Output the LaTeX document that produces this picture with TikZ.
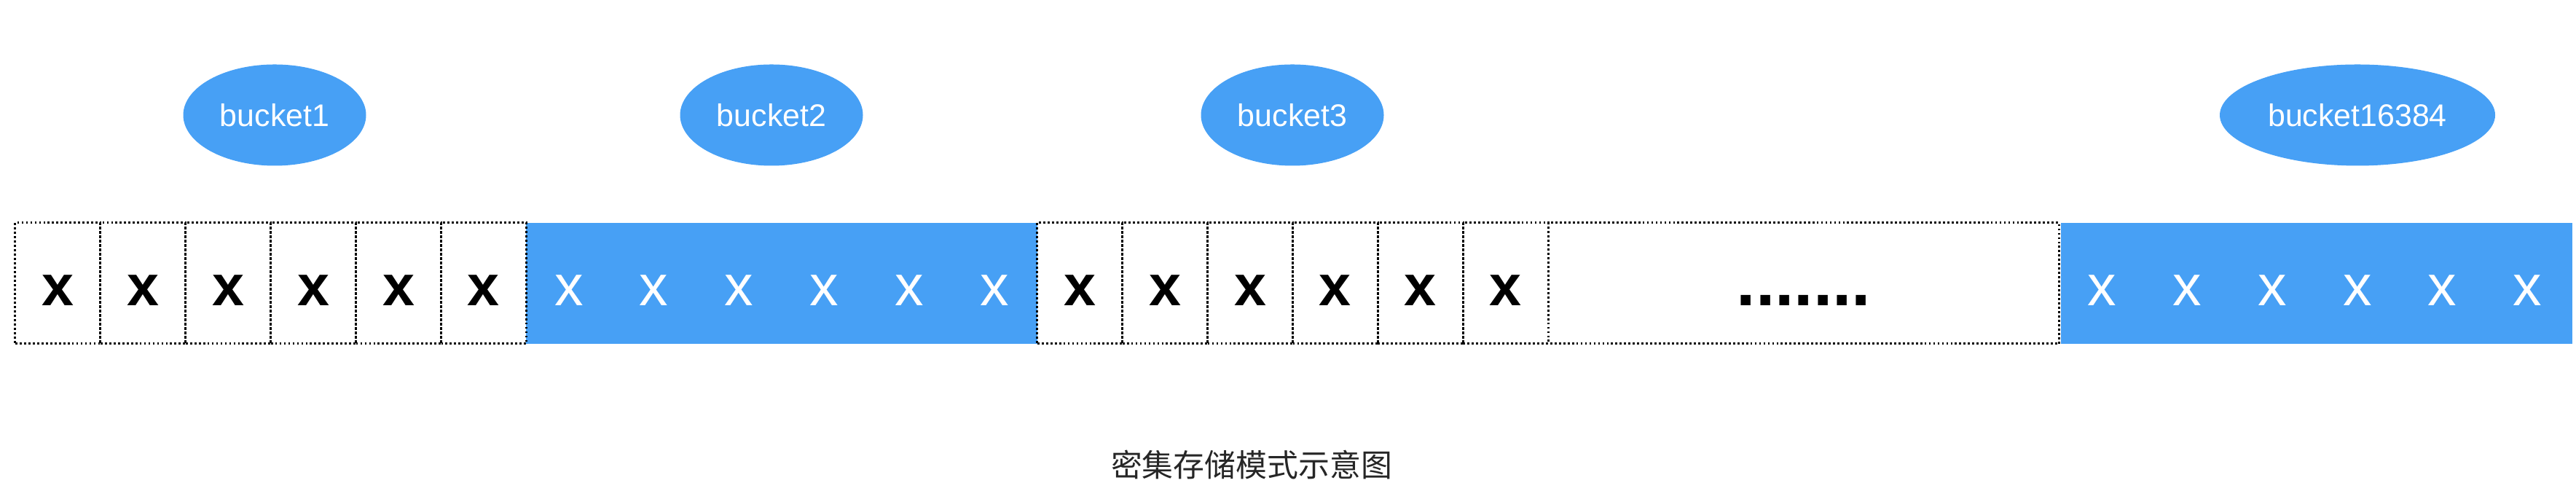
\documentclass[tikz,border=0pt]{standalone}
\usepackage{fontspec}
\setmainfont{Liberation Sans}
\newfontfamily\cjk{Noto Sans CJK SC}
\usetikzlibrary{shapes.geometric}
\definecolor{bktblue}{RGB}{71,160,245}
\tikzset{
  cell/.style={draw, line width=0.03cm, dash pattern=on 0.8pt off 0.9pt,
    minimum width=1.169cm, minimum height=1.66cm, inner sep=0pt,
    text height=0.62cm, text depth=0cm,
    font=\fontsize{22.5}{26}\selectfont\bfseries},
  bluecell/.style={minimum width=1.169cm, minimum height=1.66cm, inner sep=0pt,
    text height=0.62cm, text depth=0cm, text=white,
    font=\fontsize{22.5}{26}\selectfont},
  blueblock/.style={fill=bktblue, minimum width=7.014cm, minimum height=1.66cm, inner sep=0pt},
  bucket/.style={ellipse, fill=bktblue, text=white, minimum width=2.51cm,
    minimum height=1.39cm, inner sep=0pt, font=\fontsize{12.2}{14}\selectfont}
}
\begin{document}
\begin{tikzpicture}
	  \useasboundingbox (0,0) rectangle (35.36,6.85);

	  % buckets
	  \node[bucket] (bucket1) at (3.77,5.27) {bucket1};
	  \node[bucket] (bucket2) at (10.59,5.27) {bucket2};
	  \node[bucket] (bucket3) at (17.74,5.27) {bucket3};
	  \node[bucket, minimum width=3.78cm] (bucket16384) at (32.36,5.27) {bucket16384};

	  % blue blocks
	  \node[blueblock] (blk2) at (10.73,2.96) {};
	  \node[blueblock] (blk4) at (31.80,2.96) {};
	  \foreach \i in {6,...,11}
	    \node[bluecell] (c\i) at ({0.7945+1.169*\i},2.96) {x};
	  \foreach \i in {24,...,29}
	    \node[bluecell] (c\i) at ({0.7945+1.169*\i},2.96) {x};

	  % white cells
	  \foreach \i in {0,...,5}
	    \node[cell] (c\i) at ({0.7945+1.169*\i},2.96) {x};
	  \foreach \i in {12,...,17}
	    \node[cell] (c\i) at ({0.7945+1.169*\i},2.96) {x};
	  \node[cell, minimum width=7.014cm, dash phase=0.96pt, font=\fontsize{27}{30}\selectfont\bfseries] (gap) at (24.759,2.96) {.......};

	  \node[anchor=base, text=black!85, font=\cjk\fontsize{12.2}{14}\selectfont] (title) at (17.18,0.30) {密集存储模式示意图};
	\end{tikzpicture}
\end{document}
